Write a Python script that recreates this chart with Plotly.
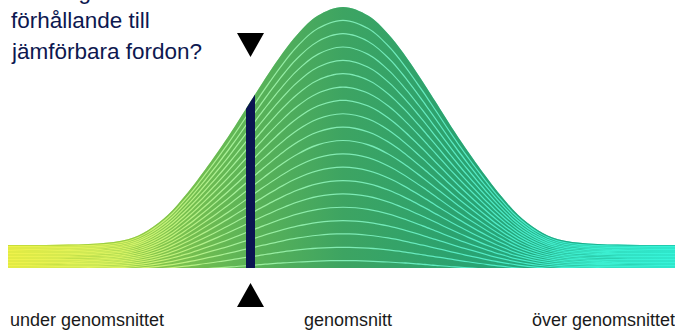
import numpy as np
import plotly.graph_objects as go

# Outline of the distribution: distance from the average and height (% of peak)
dev = [-335, -285, -245, -215, -195, -175, -158, -145, -125, -112, -97, -88, -80, -60, -45, -25,
       0, 25, 45, 60, 80, 88, 97, 112, 125, 145, 158, 175, 195, 215, 245, 285, 335]
height = [10.9, 10.95, 11.4, 13.0, 16.4, 22.2, 29.3, 35.5, 45.9, 53.1, 61.9, 67.2, 71.9, 82.9, 90.0, 96.8,
          100.0, 96.8, 90.0, 82.9, 71.9, 67.2, 61.9, 53.1, 45.9, 35.5, 29.3, 22.2, 16.4, 13.0, 11.4, 10.95, 10.9]

N_BANDS = 20

# Where the vehicle sits (bar edges)
vehicle_edges = [-97, -88]

question_lines = ["Hur hög är skatten i", "förhållande till", "jämförbara fordon?"]
scale_labels = ["under genomsnittet", "genomsnitt", "över genomsnittet"]
scale_pos = [-335, 5, 187]
scale_anchor = ["left", "center", "left"]

# gradient colours, left to right
fill_colors = ["#bcd830", "#95cc45", "#62b655", "#3da462", "#2ba26f", "#1faa86", "#18c2a4"]
line_colors = ["#f0f24a", "#d8f262", "#a6f098", "#80eab4", "#5aeac4", "#3eeccc", "#36f4da"]

NAVY = "#0b1452"

Y_RANGE = [2.25, 102.6]
PLOT_H = 268
px_per_unit = PLOT_H / (Y_RANGE[1] - Y_RANGE[0])


def scale(colors):
    n = len(colors) - 1
    return [[i / n, c] for i, c in enumerate(colors)]


x = np.array(dev, dtype=float)
h = np.array(height, dtype=float)
slope_px = np.gradient(h, x) * px_per_unit
half_gap = 0.6 / px_per_unit

grad_main = dict(type="horizontal", colorscale=scale(fill_colors), start=dev[0], stop=dev[-1])
grad_light = dict(type="horizontal", colorscale=scale(line_colors), start=dev[0], stop=dev[-1])

fig = go.Figure()

# light underlay: shows through the gaps between the bands as thin lines
fig.add_trace(go.Scatter(x=dev, y=height, mode="lines", line=dict(width=0, shape="spline"),
                         fill="tozeroy", fillgradient=grad_light, hoverinfo="skip"))


def boundary(k):
    frac = k / N_BANDS
    return frac * h, half_gap * np.sqrt(1 + (frac * slope_px) ** 2)


for k in range(N_BANDS):
    if k == 0:
        lower = np.zeros_like(h)
    else:
        b, g = boundary(k)
        lower = b + g
    if k == N_BANDS - 1:
        upper = h
    else:
        b, g = boundary(k + 1)
        upper = b - g
    fig.add_trace(go.Scatter(x=dev, y=lower, mode="lines", line=dict(width=0, shape="spline"),
                             hoverinfo="skip"))
    fig.add_trace(go.Scatter(x=dev, y=upper, mode="lines", line=dict(width=0, shape="spline"),
                             fill="tonexty", fillgradient=grad_main, hoverinfo="skip"))

# vehicle bar, top follows the curve
i0, i1 = dev.index(vehicle_edges[0]), dev.index(vehicle_edges[1])
fig.add_trace(go.Scatter(
    x=[vehicle_edges[0], vehicle_edges[0], vehicle_edges[1], vehicle_edges[1]],
    y=[0, height[i0], height[i1], 0],
    mode="lines", line=dict(width=0), fill="toself", fillcolor=NAVY, hoverinfo="skip"))

mid = sum(vehicle_edges) / 2
fig.add_shape(type="path", xref="x", yref="paper", xsizemode="pixel", ysizemode="pixel",
              xanchor=mid, yanchor=(PLOT_H - 45) / PLOT_H,
              path="M-13.5,12 L13.5,12 L0,-12 Z", fillcolor="black", line=dict(width=0))
fig.add_shape(type="path", xref="x", yref="paper", xsizemode="pixel", ysizemode="pixel",
              xanchor=mid, yanchor=(PLOT_H - 295) / PLOT_H,
              path="M-13.5,-12 L13.5,-12 L0,12 Z", fillcolor="black", line=dict(width=0))

for i, line in enumerate(question_lines):
    fig.add_annotation(text=line, xref="paper", yref="paper", x=9 / 675, xanchor="left",
                       y=(PLOT_H - (-9 + 30 * i)) / PLOT_H, yanchor="middle", showarrow=False,
                       font=dict(family="Liberation Sans, Arial", size=22.5, color="#0d1850"))

for lab, pos, anc in zip(scale_labels, scale_pos, scale_anchor):
    fig.add_annotation(text=lab, xref="x", yref="paper", x=pos, xanchor=anc,
                       y=(PLOT_H - 320) / PLOT_H, yanchor="middle", showarrow=False,
                       font=dict(family="Liberation Sans, Arial", size=18, color="#1a1a1a"))

fig.update_layout(
    width=675, height=330,
    margin=dict(l=0, r=0, t=0, b=330 - PLOT_H),
    paper_bgcolor="white", plot_bgcolor="white",
    showlegend=False,
    xaxis=dict(visible=False, range=[-343, 332]),
    yaxis=dict(visible=False, range=Y_RANGE),
)

# page body has a default 8px margin; drop it so the figure sits at the window corner
fig.write_html("out.html", config={"displayModeBar": False},
               post_script="document.body.style.margin='0';")
